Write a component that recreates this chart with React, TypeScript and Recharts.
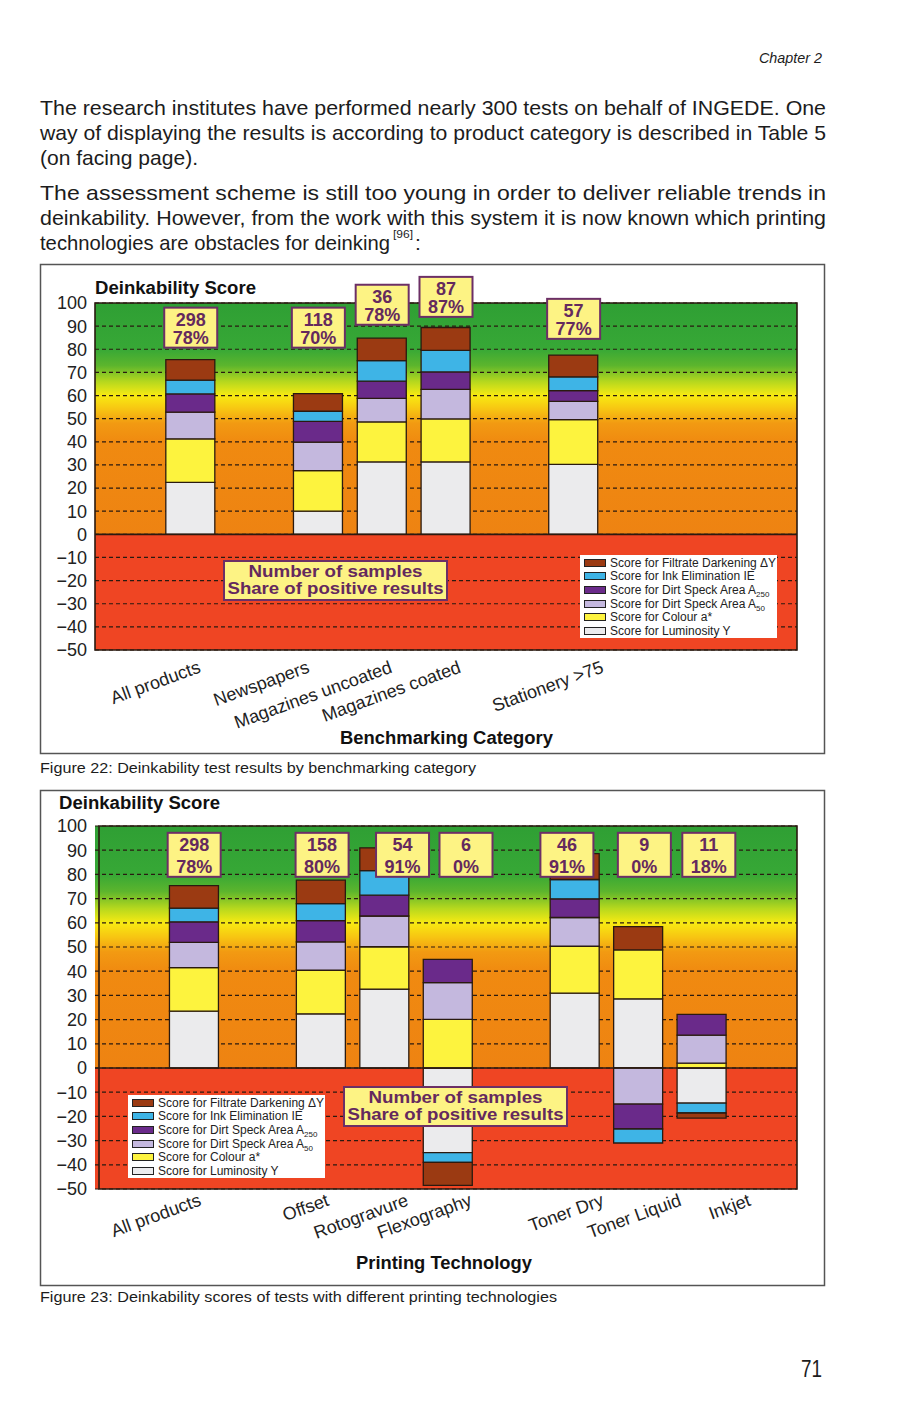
import React from "react";
import {
  BarChart,
  Bar,
  XAxis,
  YAxis,
  CartesianGrid,
  ReferenceLine,
  ReferenceArea,
  ReferenceDot,
  Legend,
} from "recharts";

const FONT = "'Liberation Sans', Arial, sans-serif";

// ---- Figure 22: benchmarking categories ----
const topCategories = ["All products", "Newspapers", "Magazines uncoated", "Magazines coated", "Stationery >75"];
const topLuminosity = [22.5, 10, 31.3, 31.3, 30.2];
const topColour = [18.8, 17.5, 17.3, 18.6, 19.4];
const topSpeck50 = [11.5, 12.4, 10.2, 12.8, 7.9];
const topSpeck250 = [7.9, 8.9, 7.4, 7.5, 4.6];
const topInk = [6, 4.4, 8.9, 9.3, 6];
const topFiltrate = [8.8, 7.6, 9.7, 9.9, 9.4];
const topSamples = [298, 118, 36, 87, 57];
const topShare = [78, 70, 78, 87, 77];

// ---- Figure 23: printing technologies ----
const botCategories = ["All products", "Offset", "Rotogravure", "Flexography", "Toner Dry", "Toner Liquid", "Inkjet"];
const botLuminosity = [23.5, 22.4, 32.6, -35, 30.9, 28.6, -14.5];
const botColour = [18, 18, 17.5, 20.1, 19.4, 20.2, 2];
const botSpeck50 = [10.4, 11.7, 12.7, 15.2, 11.9, -14.9, 11.6];
const botSpeck250 = [8.5, 8.8, 8.6, 9.6, 7.7, -10.3, 8.6];
const botInk = [5.7, 7, 10.2, -4, 8, -5.8, -4.1];
const botFiltrate = [9.3, 9.7, 9.4, -9.5, 10.7, 9.6, -2.1];
const botSamples = [298, 158, 54, 6, 46, 9, 11];
const botShare = [78, 80, 91, 0, 91, 0, 18];

const yTicks = [-50, -40, -30, -20, -10, 0, 10, 20, 30, 40, 50, 60, 70, 80, 90, 100];

// ---- layout (slot positions on the category axis, label / box offsets) ----
const SLOT_COUNT = 11;
const topSlots = [1, 3, 4, 5, 7];
const botSlots = [1, 3, 4, 5, 7, 8, 9];
const topLabelDx = [11, -8, 11, 16, 31];
const botLabelDx = [8, 9, 25, 25, 30, 44, 50];
const topNoteY = [80.7, 80.7, 90.6, 94, 84.5];
const topNoteDx = [0, 0, 0, 0, 0];
const botNoteY = [79, 79, 79, 79, 79, 79, 79];
const botNoteDx = [0, 1, 18, 18, -8, 6, 7];

const seriesDefs = [
  { key: "lum", fill: "#ebebed", label: "Score for Luminosity Y", sub: "" },
  { key: "col", fill: "#fdf33e", label: "Score for Colour a*", sub: "" },
  { key: "a50", fill: "#c4b8de", label: "Score for Dirt Speck Area A", sub: "50" },
  { key: "a250", fill: "#6a2a8a", label: "Score for Dirt Speck Area A", sub: "250" },
  { key: "ie", fill: "#3eb4e6", label: "Score for Ink Elimination IE", sub: "" },
  { key: "dy", fill: "#9b3a12", label: "Score for Filtrate Darkening \u0394Y", sub: "" },
];

function buildRows(cats: string[], slots: number[], series: Record<string, number[]>) {
  const rows: any[] = Array.from({ length: SLOT_COUNT }, (_, i) => ({ slot: `s${i}`, name: "" }));
  cats.forEach((c, j) => {
    const r = rows[slots[j]];
    r.name = c;
    for (const k in series) r[k] = series[k][j];
  });
  return rows;
}

const topRows = buildRows(topCategories, topSlots, {
  lum: topLuminosity, col: topColour, a50: topSpeck50, a250: topSpeck250, ie: topInk, dy: topFiltrate,
});
const botRows = buildRows(botCategories, botSlots, {
  lum: botLuminosity, col: botColour, a50: botSpeck50, a250: botSpeck250, ie: botInk, dy: botFiltrate,
});

// legend lists the stack from top to bottom
const LegendBox = () => {
  const items = seriesDefs.slice().reverse();
  return (
    <div
      style={{
        background: "#fff",
        width: 197,
        height: 83,
        boxSizing: "border-box",
        padding: "1px 0 0 4px",
        fontFamily: FONT,
        fontSize: 12,
        color: "#222",
      }}
    >
      {items.map((s) => (
        <div key={s.key} style={{ display: "flex", alignItems: "center", height: 13.6, whiteSpace: "nowrap" }}>
          <span
            style={{
              display: "inline-block",
              width: 20,
              height: 6,
              background: s.fill,
              border: "1.2px solid #222",
              marginRight: 4,
            }}
          />
          <span>
            {s.label}
            {s.sub ? <sub style={{ fontSize: 8, lineHeight: 0 }}>{s.sub}</sub> : null}
          </span>
        </div>
      ))}
    </div>
  );
};

function DeinkChart(p: {
  id: string;
  rows: any[];
  cats: string[];
  slots: number[];
  labelDx: number[];
  samples: number[];
  share: number[];
  noteY: number[];
  noteDx: number[];
  width: number;
  height: number;
  top: number;
  axisH: number;
  padLeft: number;
  labelDrop: number;
  boxH: number;
  legendPos: { left: number; top: number };
}) {
  const renderTick = (t: any) => {
    const idx = p.slots.indexOf(Number(String(t.payload.value).slice(1)));
    if (idx < 0) return <g />;
    const x = t.x + p.labelDx[idx];
    const y = t.y + p.labelDrop;
    return (
      <text
        x={x}
        y={y}
        transform={`rotate(-20 ${x} ${y})`}
        textAnchor="end"
        fontFamily={FONT}
        fontSize={18}
        fill="#222"
      >
        {p.cats[idx]}
      </text>
    );
  };

  const noteShape = (j: number) => (s: any) => {
    const cx = s.cx + p.noteDx[j];
    const cy = s.cy;
    const h = p.boxH;
    return (
      <g>
        <rect x={cx - 26.5} y={cy - h} width={53} height={h} fill="#fdf384" stroke="#6c2f66" strokeWidth={2} />
        <text x={cx} y={cy - h + 18} textAnchor="middle" fontFamily={FONT} fontWeight="bold" fontSize={18} fill="#64295e">
          {p.samples[j]}
        </text>
        <text x={cx} y={cy - 4} textAnchor="middle" fontFamily={FONT} fontWeight="bold" fontSize={18} fill="#64295e">
          {p.share[j]}%
        </text>
      </g>
    );
  };

  return (
    <BarChart
      width={p.width}
      height={p.height}
      data={p.rows}
      stackOffset="sign"
      barSize={49}
      margin={{ top: p.top, right: 27, left: 10, bottom: 0 }}
    >
      <defs>
        <linearGradient id={p.id} x1="0" y1="0" x2="0" y2="1">
          <stop offset="0" stopColor="#2f9f34" />
          <stop offset="0.133" stopColor="#37a836" />
          <stop offset="0.18" stopColor="#5cb52d" />
          <stop offset="0.227" stopColor="#b6d81e" />
          <stop offset="0.267" stopColor="#f8ea12" />
          <stop offset="0.307" stopColor="#f7c412" />
          <stop offset="0.347" stopColor="#f29a12" />
          <stop offset="0.4" stopColor="#f08a10" />
          <stop offset="0.6667" stopColor="#ee8312" />
          <stop offset="0.6667" stopColor="#ef4523" />
          <stop offset="1" stopColor="#ef4523" />
        </linearGradient>
      </defs>
      <CartesianGrid
        vertical={false}
        fill={`url(#${p.id})`}
        fillOpacity={1}
        stroke="#2a1a10"
        strokeDasharray="4 3"
        strokeWidth={1.2}
      />
      <XAxis
        dataKey="slot"
        interval={0}
        tickLine={false}
        axisLine={false}
        tickSize={0}
        tickMargin={0}
        height={p.axisH}
        padding={{ left: p.padLeft, right: 0 }}
        tick={renderTick}
      />
      <YAxis
        type="number"
        domain={[-50, 100]}
        ticks={yTicks}
        interval={0}
        width={45}
        tickLine={false}
        axisLine={false}
        tickSize={0}
        tickMargin={8}
        tick={{ fontSize: 18, fill: "#222", fontFamily: FONT }}
        tickFormatter={(v: number) => (v < 0 ? `\u2212${-v}` : `${v}`)}
      />
      {seriesDefs.map((s) => (
        <Bar
          key={s.key}
          dataKey={s.key}
          name={s.label + s.sub}
          stackId="score"
          fill={s.fill}
          stroke="#2a1a10"
          strokeWidth={1.3}
          isAnimationActive={false}
        />
      ))}
      <ReferenceLine y={0} stroke="#2a1a10" strokeWidth={1.6} />
      <ReferenceArea y1={-50} y2={100} fill="none" fillOpacity={0} stroke="#2a1a10" strokeWidth={1.6} />
      {p.cats.map((c, j) => (
        <ReferenceDot
          key={c}
          x={`s${p.slots[j]}`}
          y={p.noteY[j]}
          ifOverflow="visible"
          shape={noteShape(j)}
        />
      ))}
      <Legend
        layout="vertical"
        align="center"
        verticalAlign="middle"
        content={() => <LegendBox />}
        wrapperStyle={{ left: p.legendPos.left, top: p.legendPos.top, width: 197, height: 83 }}
      />
    </BarChart>
  );
}

const bodyLines = [
  { t: "The research institutes have performed nearly 300 tests on behalf of INGEDE. One", y: 115, w: 786 },
  { t: "way of displaying the results is according to product category is described in Table 5", y: 140, w: 786 },
  { t: "(on facing page).", y: 165, w: 158 },
  { t: "The assessment scheme is still too young in order to deliver reliable trends in", y: 200, w: 786 },
  { t: "deinkability. However, from the work with this system it is now known which printing", y: 225, w: 786 },
  { t: "technologies are obstacles for deinking", y: 250, w: 350 },
];

function SamplesBox({ x, y }: { x: number; y: number }) {
  return (
    <g>
      <rect x={x} y={y} width={223} height={39} fill="#fdf384" stroke="#6c2f66" strokeWidth={2} />
      <text x={x + 111.5} y={y + 16} textAnchor="middle" fontFamily={FONT} fontWeight="bold" fontSize={17} fill="#64295e" textLength={174} lengthAdjust="spacingAndGlyphs">
        Number of samples
      </text>
      <text x={x + 111.5} y={y + 33} textAnchor="middle" fontFamily={FONT} fontWeight="bold" fontSize={17} fill="#64295e" textLength={216} lengthAdjust="spacingAndGlyphs">
        Share of positive results
      </text>
    </g>
  );
}

export default function App() {
  return (
    <div style={{ position: "absolute", left: 0, top: 0, width: 905, height: 1401, background: "#fff" }}>
      <div style={{ position: "absolute", left: 40, top: 264 }}>
        <DeinkChart
          id="bgTop"
          rows={topRows}
          cats={topCategories}
          slots={topSlots}
          labelDx={topLabelDx}
          samples={topSamples}
          share={topShare}
          noteY={topNoteY}
          noteDx={topNoteDx}
          width={784}
          height={489}
          top={39}
          axisH={103}
          padLeft={0}
          labelDrop={22}
          boxH={40}
          legendPos={{ left: 540, top: 291 }}
        />
      </div>
      <div style={{ position: "absolute", left: 40, top: 790 }}>
        <DeinkChart
          id="bgBot"
          rows={botRows}
          cats={botCategories}
          slots={botSlots}
          labelDx={botLabelDx}
          samples={botSamples}
          share={botShare}
          noteY={botNoteY}
          noteDx={botNoteDx}
          width={784}
          height={495}
          top={36}
          axisH={96}
          padLeft={4}
          labelDrop={16}
          boxH={44}
          legendPos={{ left: 88, top: 305 }}
        />
      </div>
      <svg width={905} height={1401} style={{ position: "absolute", left: 0, top: 0, pointerEvents: "none" }}>
        <g fontFamily={FONT} fill="#1c1c1c">
          <text x={759} y={63} fontSize={15} fontStyle="italic" textLength={63} lengthAdjust="spacingAndGlyphs">
            Chapter 2
          </text>
          {bodyLines.map((l) => (
            <text key={l.t} x={40} y={l.y} fontSize={21} textLength={l.w} lengthAdjust="spacingAndGlyphs">
              {l.t}
            </text>
          ))}
          <text x={393} y={238} fontSize={10} textLength={20} lengthAdjust="spacingAndGlyphs">
            [96]
          </text>
          <text x={415} y={250} fontSize={21}>
            :
          </text>
          <text x={40} y={773} fontSize={15} textLength={436} lengthAdjust="spacingAndGlyphs">
            Figure 22: Deinkability test results by benchmarking category
          </text>
          <text x={40} y={1302} fontSize={15} textLength={517} lengthAdjust="spacingAndGlyphs">
            Figure 23: Deinkability scores of tests with different printing technologies
          </text>
          <text x={801} y={1377} fontSize={24} textLength={21} lengthAdjust="spacingAndGlyphs">
            71
          </text>
        </g>
        <rect x={40.5} y={264.5} width={784} height={489} fill="none" stroke="#555" strokeWidth={1.5} />
        <rect x={40.5} y={790.5} width={784} height={495} fill="none" stroke="#555" strokeWidth={1.5} />
        <g fontFamily={FONT} fontWeight="bold" fontSize={18} fill="#111">
          <text x={95} y={294} textLength={161} lengthAdjust="spacingAndGlyphs">Deinkability Score</text>
          <text x={59} y={809} textLength={161} lengthAdjust="spacingAndGlyphs">Deinkability Score</text>
          <text x={340} y={744} textLength={213} lengthAdjust="spacingAndGlyphs">Benchmarking Category</text>
          <text x={356} y={1269} textLength={176} lengthAdjust="spacingAndGlyphs">Printing Technology</text>
        </g>
        <SamplesBox x={224} y={561} />
        <SamplesBox x={344} y={1087} />
      </svg>
    </div>
  );
}
